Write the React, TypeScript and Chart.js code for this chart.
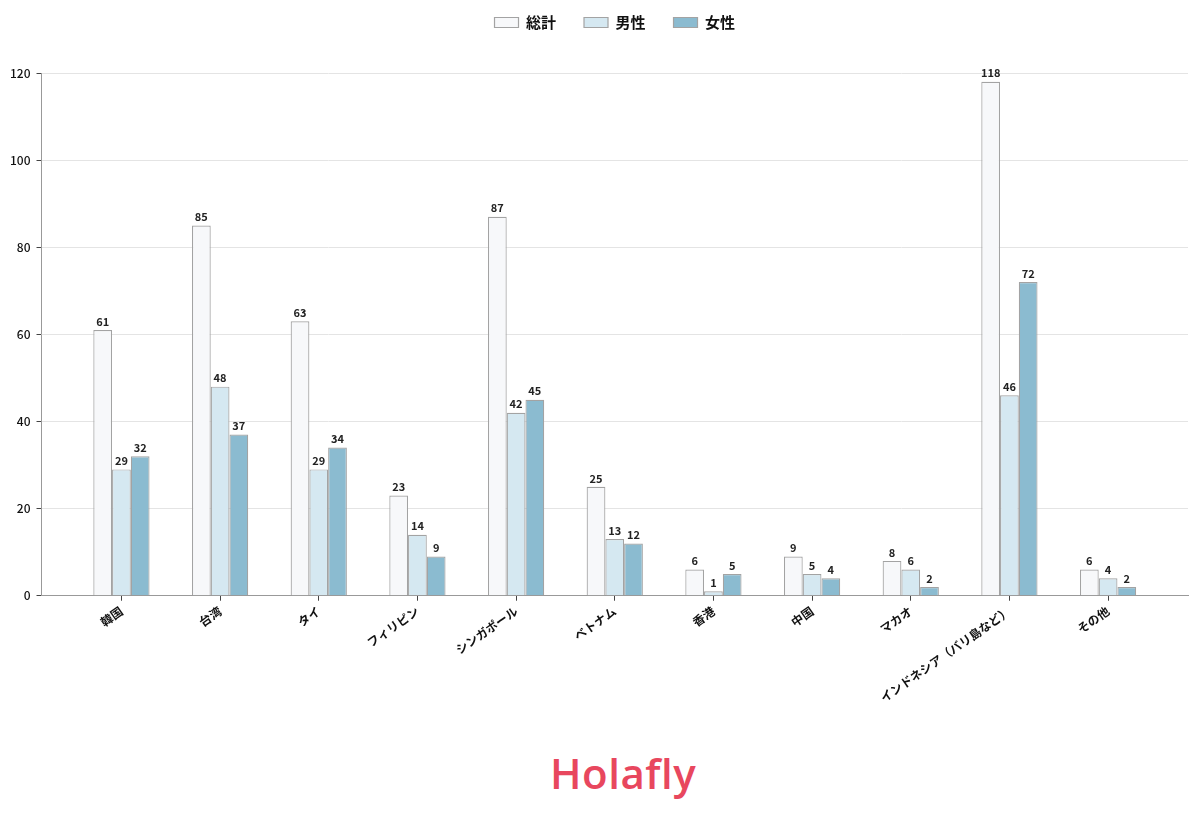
import React, { useEffect, useRef } from 'react';
import { Chart, registerables } from 'chart.js';

Chart.register(...registerables);

const categories = ['韓国', '台湾', 'タイ', 'フィリピン', 'シンガポール', 'ベトナム', '香港', '中国', 'マカオ', 'インドネシア（バリ島など）', 'その他'];
const totalValues = [61, 85, 63, 23, 87, 25, 6, 9, 8, 118, 6];
const maleValues = [29, 48, 29, 14, 42, 13, 1, 5, 6, 46, 4];
const femaleValues = [32, 37, 34, 9, 45, 12, 5, 4, 2, 72, 2];
const yTicks = [0, 20, 40, 60, 80, 100, 120];

const FONT = '"Noto Sans CJK JP", "Noto Sans", sans-serif';
// extra room (in categories) left and right of the first/last group
const X_SIDE_PAD = 0.31;

// draws the value above each bar
const barLabels = {
    id: 'barLabels',
    afterDatasetsDraw(chart: Chart) {
        const ctx = chart.ctx;
        ctx.save();
        ctx.font = `bold 11px ${FONT}`;
        ctx.fillStyle = '#222';
        ctx.textAlign = 'center';
        ctx.textBaseline = 'bottom';
        chart.data.datasets.forEach((ds, i) => {
            const meta = chart.getDatasetMeta(i);
            meta.data.forEach((bar: any, j) => {
                ctx.fillText(String(ds.data[j]), bar.x, bar.y - 3);
            });
        });
        ctx.restore();
    }
};

// more space between legend and plot
const legendGap = {
    id: 'legendGap',
    beforeInit(chart: any) {
        const fit = chart.legend.fit;
        chart.legend.fit = function () {
            fit.bind(chart.legend)();
            this.height += 33;
        };
    }
};

export default function App() {
    const canvasRef = useRef<HTMLCanvasElement>(null);

    useEffect(() => {
        document.body.style.margin = '0';
        if (!canvasRef.current) return;
        const chart = new Chart(canvasRef.current, {
            type: 'bar',
            data: {
                labels: categories,
                datasets: [
                    { label: '総計', data: totalValues, backgroundColor: '#f7f8fa', borderColor: '#a3a3a3', borderWidth: 1.2 },
                    { label: '男性', data: maleValues, backgroundColor: '#d5e8f1', borderColor: '#a3a3a3', borderWidth: 1.2 },
                    { label: '女性', data: femaleValues, backgroundColor: '#8bbbd0', borderColor: '#a3a3a3', borderWidth: 1.2 },
                ],
            },
            options: {
                responsive: false,
                animation: false,
                layout: { padding: { left: 4, right: 12, top: -13, bottom: 0 } },
                datasets: { bar: { categoryPercentage: 0.57, barPercentage: 1 } },
                plugins: {
                    legend: {
                        position: 'top',
                        fullSize: false,
                        labels: {
                            boxWidth: 24,
                            boxHeight: 10,
                            padding: 28,
                            color: '#111',
                            font: { family: FONT, size: 15, weight: 'bold' },
                        },
                    },
                    tooltip: { enabled: false },
                },
                scales: {
                    x: {
                        afterBuildTicks: (axis: any) => {
                            axis._startValue = -0.5 - X_SIDE_PAD;
                            axis._valueRange = categories.length + 2 * X_SIDE_PAD;
                        },
                        grid: { display: true, offset: false, drawOnChartArea: false, tickColor: '#444', tickLength: 5 },
                        border: { color: '#999' },
                        ticks: {
                            color: '#111',
                            maxRotation: 35,
                            minRotation: 35,
                            font: { family: FONT, size: 12, weight: 'bold' },
                        },
                    },
                    y: {
                        min: 0,
                        max: 120,
                        afterBuildTicks: (axis: any) => {
                            axis.ticks = yTicks.map((v) => ({ value: v }));
                        },
                        grid: { color: '#e4e4e4', tickColor: '#444', tickLength: 5 },
                        border: { color: '#999' },
                        ticks: {
                            color: '#111',
                            padding: 6,
                            font: { family: FONT, size: 12, weight: 500 },
                        },
                    },
                },
            },
            plugins: [barLabels, legendGap],
        });
        return () => chart.destroy();
    }, []);

    return (
        <div style={{ position: 'relative', width: 1200, height: 828, background: '#fff' }}>
            <canvas ref={canvasRef} width={1200} height={708}></canvas>
            <div
                style={{
                    position: 'absolute',
                    top: 745,
                    left: 550,
                    fontFamily: '"Open Sans", "Noto Sans", sans-serif',
                    fontWeight: 600,
                    fontSize: 42,
                    lineHeight: '56px',
                    color: '#e8475e',
                    letterSpacing: '0.5px',
                }}
            >
                Holafly
            </div>
        </div>
    );
}
